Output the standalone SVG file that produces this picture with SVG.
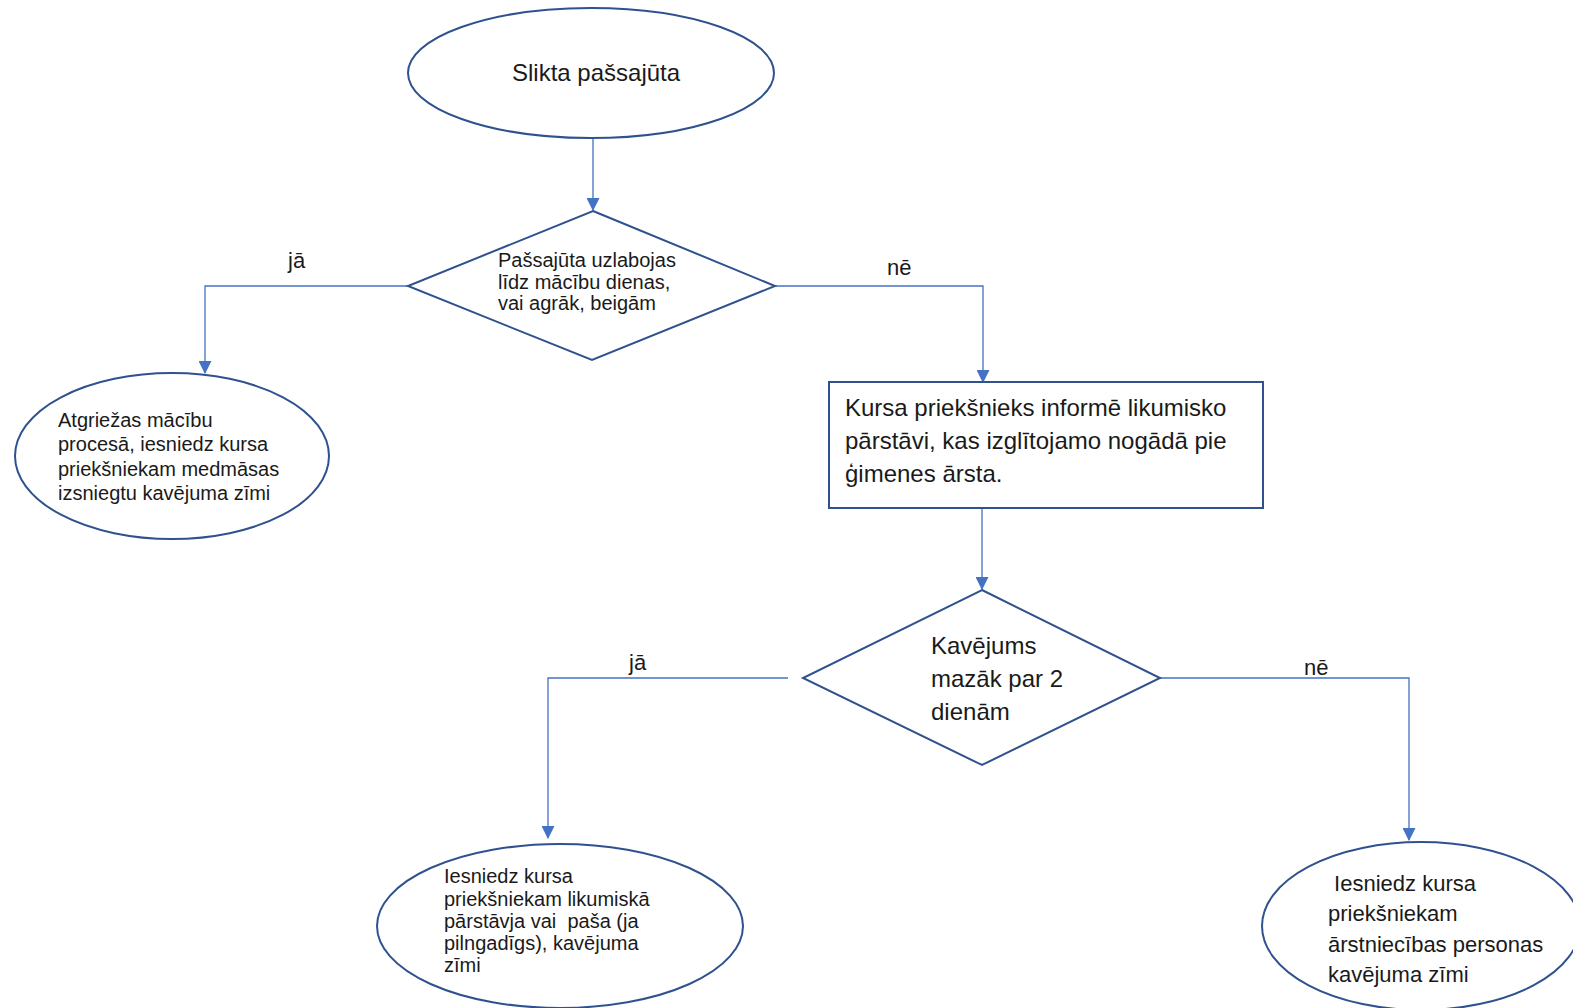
<svg xmlns="http://www.w3.org/2000/svg" width="1573" height="1008" viewBox="0 0 1573 1008">
<defs>
<marker id="arr" viewBox="0 0 12 12" refX="11" refY="6" markerWidth="13" markerHeight="13" markerUnits="userSpaceOnUse" orient="auto">
<path d="M0,0 L12,6 L0,12 z" fill="#4472C4"/>
</marker>
<style>
.shape{fill:#fff;stroke:#2F528F;stroke-width:2}
.conn{fill:none;stroke:#4472C4;stroke-width:1.3;marker-end:url(#arr)}
text{font-family:"Liberation Sans",Arial,sans-serif;fill:#1a1a1a}
.t20{font-size:20px}
.t24{font-size:24px}
.t22{font-size:22px}
</style>
</defs>
<rect width="1573" height="1008" fill="#fff"/>
<g id="connectors">
<path class="conn" d="M593,138 L593,210"/>
<path class="conn" d="M408,286 L205,286 L205,373"/>
<path class="conn" d="M775,286 L983,286 L983,382"/>
<path class="conn" d="M982,508 L982,589"/>
<path class="conn" d="M788,678 L548,678 L548,838"/>
<path class="conn" d="M1160,678 L1409,678 L1409,840"/>
<text class="t22" x="288" y="268">jā</text>
<text class="t22" x="887" y="275">nē</text>
<text class="t22" x="629" y="670">jā</text>
<text class="t22" x="1304" y="675">nē</text>
</g>
<g id="start">
<ellipse class="shape" cx="591" cy="73" rx="183" ry="65"/>
<text class="t24" x="512" y="81">Slikta pašsajūta</text>
</g>
<g id="decision1">
<polygon class="shape" points="593,211 775,286 592,360 408,286"/>
<text class="t20"><tspan x="498" y="267">Pašsajūta uzlabojas</tspan><tspan x="498" y="289">līdz mācību dienas,</tspan><tspan x="498" y="310">vai agrāk, beigām</tspan></text>
</g>
<g id="return">
<ellipse class="shape" cx="172" cy="456" rx="157" ry="83"/>
<text class="t20"><tspan x="58" y="427">Atgriežas mācību</tspan><tspan x="58" y="451">procesā, iesniedz kursa</tspan><tspan x="58" y="476">priekšniekam medmāsas</tspan><tspan x="58" y="500">izsniegtu kavējuma zīmi</tspan></text>
</g>
<g id="inform">
<rect class="shape" x="829" y="382" width="434" height="126"/>
<text class="t24"><tspan x="845" y="416">Kursa priekšnieks informē likumisko</tspan><tspan x="845" y="449">pārstāvi, kas izglītojamo nogādā pie</tspan><tspan x="845" y="482">ģimenes ārsta.</tspan></text>
</g>
<g id="decision2">
<polygon class="shape" points="982,590 1160,678 982,765 803,678"/>
<text class="t24"><tspan x="931" y="654">Kavējums</tspan><tspan x="931" y="687">mazāk par 2</tspan><tspan x="931" y="720">dienām</tspan></text>
</g>
<g id="submit-guardian">
<ellipse class="shape" cx="560" cy="926" rx="183" ry="82"/>
<text class="t20" xml:space="preserve"><tspan x="444" y="883">Iesniedz kursa</tspan><tspan x="444" y="906">priekšniekam likumiskā</tspan><tspan x="444" y="928">pārstāvja vai  paša (ja</tspan><tspan x="444" y="950">pilngadīgs), kavējuma</tspan><tspan x="444" y="972">zīmi</tspan></text>
</g>
<g id="submit-doctor">
<ellipse class="shape" cx="1421" cy="926" rx="159" ry="84"/>
<text class="t22" xml:space="preserve"><tspan x="1328" y="891"> Iesniedz kursa</tspan><tspan x="1328" y="921">priekšniekam</tspan><tspan x="1328" y="952">ārstniecības personas</tspan><tspan x="1328" y="982">kavējuma zīmi</tspan></text>
</g>
</svg>
